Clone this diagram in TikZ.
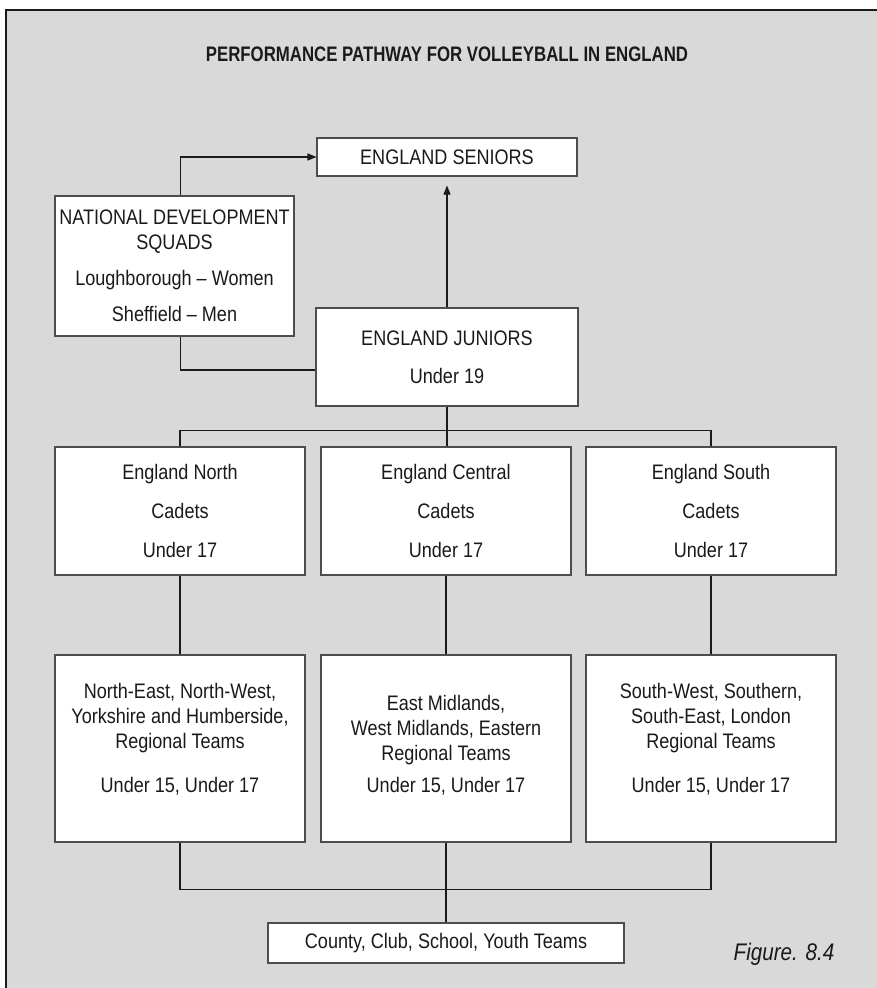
\documentclass[tikz,border=0pt]{standalone}
\usepackage{fontspec}
\setmainfont{Liberation Sans}[FakeStretch=0.86]
\newfontfamily\titlefont{Liberation Sans}[FakeStretch=0.8]
\usetikzlibrary{arrows.meta,calc}
\definecolor{pathBack}{HTML}{D9D9D9}
\definecolor{pathInk}{HTML}{1A1A1A}
\definecolor{pathEdge}{HTML}{4D4D4D}
\newcommand{\lowpad}[1]{\rule[-#1]{0pt}{#1}}

\begin{document}
\begin{tikzpicture}[
  x=1pt,y=-1pt,
  font=\fontsize{21}{25}\selectfont,
  box/.style={draw=pathEdge,line width=1.1pt,fill=white,align=center,inner sep=0pt,text=pathInk},
  regbox/.style={box,minimum width=250pt,minimum height=187pt},
  link/.style={line width=1.1pt,draw=pathInk},
  arrowlink/.style={link,-{Triangle[length=9pt,width=7pt]}},
  heading/.style={font=\titlefont\bfseries\fontsize{21}{24}\selectfont,text=pathInk},
  caption/.style={font=\itshape\fontsize{24}{26}\selectfont,text=pathInk}
]
\useasboundingbox (0,0) rectangle (877,988);
\fill[pathBack] (6,10) rectangle (877,988);
\draw[line width=1.5pt,pathInk] (6,988) -- (6,10) -- (877,10);

\node[heading] (title) at (447,54) {PERFORMANCE PATHWAY FOR VOLLEYBALL IN ENGLAND};

\node[box,minimum width=260pt,minimum height=38pt] (seniors) at (447,157) {ENGLAND SENIORS};
\node[box,minimum width=239pt,minimum height=140pt] (nds) at (174.5,266) {NATIONAL DEVELOPMENT\\SQUADS\\[11pt]Loughborough -- Women\\[11pt]Sheffield -- Men};
\node[box,minimum width=262pt,minimum height=98pt] (juniors) at (447,357) {ENGLAND JUNIORS\\[13pt]Under 19};

\node[box,minimum width=250pt,minimum height=128pt] (north) at (180,511) {England North\\[14pt]Cadets\\[14pt]Under 17};
\node[box,minimum width=250pt,minimum height=128pt] (central) at (446,511) {England Central\\[14pt]Cadets\\[14pt]Under 17};
\node[box,minimum width=250pt,minimum height=128pt] (south) at (711,511) {England South\\[14pt]Cadets\\[14pt]Under 17};

\node[regbox] (regnorth) at (180,748.5) {North-East, North-West,\\Yorkshire and Humberside,\\Regional Teams\\[19pt]Under 15, Under 17\lowpad{21pt}};
\node[regbox] (regcentral) at (446,748.5) {East Midlands,\\West Midlands, Eastern\\Regional Teams\\[7pt]Under 15, Under 17\lowpad{9pt}};
\node[regbox] (regsouth) at (711,748.5) {South-West, Southern,\\South-East, London\\Regional Teams\\[19pt]Under 15, Under 17\lowpad{21pt}};

\node[box,minimum width=356pt,minimum height=40pt] (county) at (446,943) {County, Club, School, Youth Teams};
\node[caption] (figlabel) at (784,954) {Figure. 8.4};

% upper part
\draw[arrowlink] ([xshift=6pt]nds.north) |- (seniors.west);
\draw[link] ([xshift=6pt]nds.south) |- ([yshift=-13pt]juniors.west);
\draw[arrowlink,shorten >=9pt] (juniors.north) -- (juniors.north |- seniors.south);

% cadets
\draw[link] (juniors.south) -- (juniors.south |- central.north);
\draw[link] (north.north) -- ++(0,-16) -| (south.north);
\foreach \a/\b in {north/regnorth,central/regcentral,south/regsouth} {\draw[link] (\a) -- (\b);}

% regional to county
\draw[link] (regnorth.south) -- ++(0,47) -| (regsouth.south);
\draw[link] (regcentral.south) -- (county.north);
\end{tikzpicture}
\end{document}
